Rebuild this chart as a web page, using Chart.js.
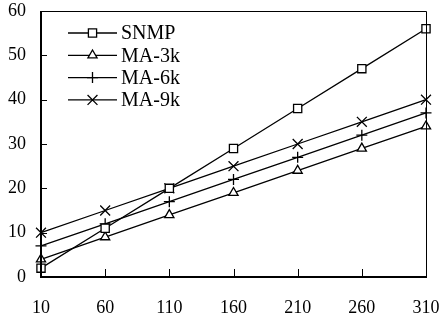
<!DOCTYPE html>
<html lang="en">
<head>
  <meta charset="utf-8">
  <title>SNMP vs MA</title>
  <script src="https://cdn.jsdelivr.net/npm/chart.js"></script>
  <style>
    html, body { margin: 0; padding: 0; background: #fff; }
    #wrap { width: 442px; height: 322px; position: relative; }
  </style>
</head>
<body>
<div id="wrap"><canvas id="myChart"></canvas></div>
<script>
// data
var xLabels = ['10', '60', '110', '160', '210', '260', '310'];
var snmp = [2, 11, 20, 29, 38, 47, 56];
var ma3k = [4, 9, 14, 19, 24, 29, 34];
var ma6k = [7, 12, 17, 22, 27, 32, 37];
var ma9k = [10, 15, 20, 25, 30, 35, 40];
var seriesNames = ['SNMP', 'MA-3k', 'MA-6k', 'MA-9k'];
var yMin = 0, yMax = 60, yStep = 10;

var FONT = "'Liberation Serif', 'Times New Roman', serif";

function mkSet(name, values, style, radius) {
  return {
    label: name,
    data: values,
    borderColor: '#000',
    borderWidth: 1.3,
    fill: false,
    tension: 0,
    pointStyle: style,
    pointRadius: radius,
    pointHoverRadius: radius,
    pointBackgroundColor: '#fff',
    pointBorderColor: '#000',
    pointBorderWidth: 1.3
  };
}

// frame, inward ticks and the legend
var framePlugin = {
  id: 'frame',
  afterDraw: function(chart) {
    var ctx = chart.ctx, a = chart.chartArea;
    var xs = chart.scales.x, ys = chart.scales.y;
    ctx.save();
    ctx.strokeStyle = '#000';
    ctx.lineWidth = 1;
    ctx.beginPath();
    ctx.moveTo(a.left, a.top + 0.5); ctx.lineTo(a.right + 0.5, a.top + 0.5);
    ctx.lineTo(a.right + 0.5, a.bottom);
    ctx.stroke();
    ctx.lineWidth = 2;
    ctx.beginPath();
    ctx.moveTo(a.left, a.top); ctx.lineTo(a.left, a.bottom); ctx.lineTo(a.right + 1, a.bottom);
    ctx.stroke();
    ctx.lineWidth = 1;
    ctx.beginPath();
    for (var i = 1; i < xs.ticks.length - 1; i++) {
      var px = Math.round(xs.getPixelForTick(i)) + 0.5;
      ctx.moveTo(px, a.bottom); ctx.lineTo(px, a.bottom - 8);
    }
    for (var v = yMin + yStep; v < yMax; v += yStep) {
      var py = Math.round(ys.getPixelForValue(v)) + 0.5;
      ctx.moveTo(a.left, py); ctx.lineTo(a.left + 6, py);
    }
    ctx.stroke();

    // legend
    var lx0 = 68, lx1 = 117, ly = 33, step = 22.3;
    ctx.font = '20px ' + FONT;
    ctx.textBaseline = 'middle';
    ctx.textAlign = 'left';
    chart.data.datasets.forEach(function(ds, k) {
      var y = ly + k * step;
      ctx.strokeStyle = '#000';
      ctx.lineWidth = 1.3;
      ctx.beginPath();
      ctx.moveTo(lx0, y); ctx.lineTo(lx1, y);
      ctx.stroke();
      ctx.fillStyle = '#fff';
      Chart.helpers.drawPoint(ctx, {
        pointStyle: ds.pointStyle, radius: ds.pointRadius, rotation: 0, borderWidth: 1.3
      }, (lx0 + lx1) / 2, y);
      ctx.fillStyle = '#000';
      ctx.fillText(ds.label, lx1 + 4, y + 1);
    });
    ctx.restore();
  }
};

var ctx = document.getElementById('myChart').getContext('2d');
var chart = new Chart(ctx, {
  type: 'line',
  data: {
    labels: xLabels,
    datasets: [
      mkSet(seriesNames[0], snmp, 'rect', 5.8),
      mkSet(seriesNames[1], ma3k, 'triangle', 5.3),
      mkSet(seriesNames[2], ma6k, 'cross', 5.5),
      mkSet(seriesNames[3], ma9k, 'crossRot', 7)
    ]
  },
  options: {
    responsive: true,
    maintainAspectRatio: false,
    animation: false,
    layout: { padding: 0 },
    plugins: { legend: { display: false }, tooltip: { enabled: false } },
    scales: {
      x: {
        offset: false,
        grid: { display: false, drawTicks: false },
        border: { display: false },
        ticks: {
          autoSkip: false, maxRotation: 0, padding: 20, color: '#000',
          font: { family: FONT, size: 18 }
        },
        afterFit: function(s) { s.height = 45; s.paddingRight = 16; s.paddingLeft = 0; }
      },
      y: {
        min: yMin, max: yMax,
        grid: { display: false, drawTicks: false },
        border: { display: false },
        ticks: {
          stepSize: yStep, padding: 15, color: '#000',
          font: { family: FONT, size: 18 }
        },
        afterFit: function(s) { s.width = 41; s.paddingTop = 11; s.paddingBottom = 0; }
      }
    }
  },
  plugins: [framePlugin]
});
</script>
</body>
</html>
